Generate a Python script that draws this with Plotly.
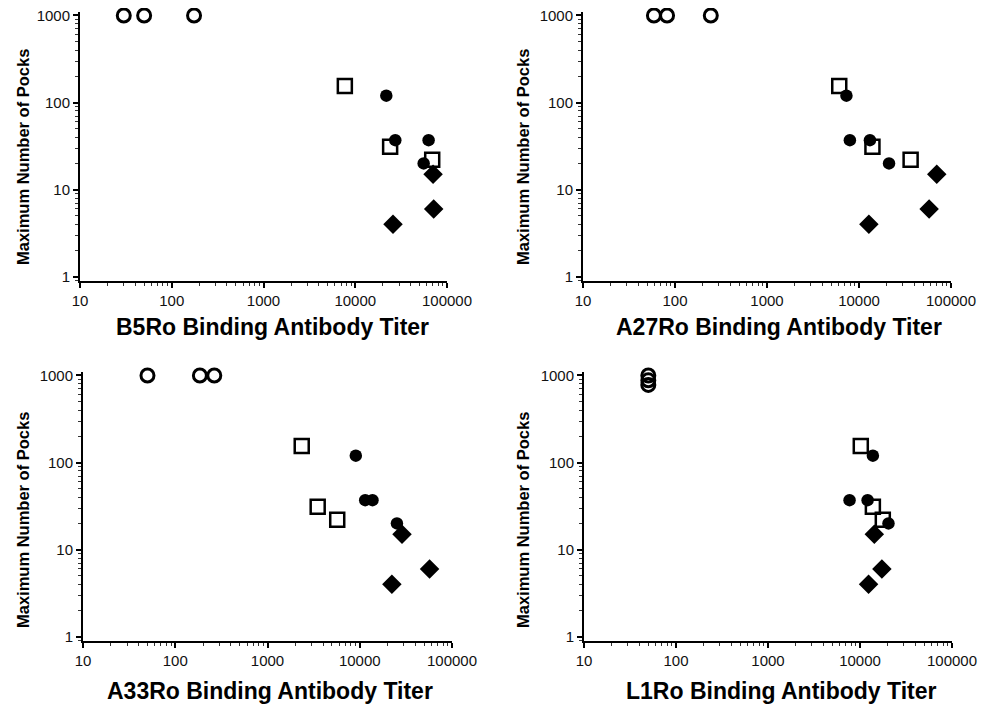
import plotly.graph_objects as go

# ---- data ----
antigens = ["B5Ro", "A27Ro", "A33Ro", "L1Ro"]

open_circle_y = [1000, 1000, 1000]
square_y = [155, 31, 22]
filled_y = [120, 37, 37, 20]
diamond_y = [15, 6, 4]

b5_open_x = [30, 50, 175]
b5_square_x = [7700, 24000, 69000]
b5_filled_x = [21800, 27300, 63000, 55700]
b5_diamond_x = [70500, 71600, 25800]

a27_open_x = [59, 82, 245]
a27_square_x = [6100, 14000, 36400]
a27_filled_x = [7300, 7960, 13150, 21200]
a27_diamond_x = [70000, 57800, 12800]

a33_open_x = [50, 185, 265]
a33_square_x = [2350, 3500, 5700]
a33_filled_x = [9060, 11460, 13740, 25300]
a33_diamond_x = [28700, 57100, 22300]

l1_open_x = [50, 50, 50]
l1_open_y = [1000, 880, 780]
l1_square_x = [10200, 13800, 17700]
l1_filled_x = [13800, 7700, 12100, 20400]
l1_diamond_x = [14300, 17300, 12400]

panels = [
    (b5_open_x, open_circle_y, b5_square_x, b5_filled_x, b5_diamond_x),
    (a27_open_x, open_circle_y, a27_square_x, a27_filled_x, a27_diamond_x),
    (a33_open_x, open_circle_y, a33_square_x, a33_filled_x, a33_diamond_x),
    (l1_open_x, l1_open_y, l1_square_x, l1_filled_x, l1_diamond_x),
]

# page body has an 8px default margin; the figure is sized to fit the window
OFF = 8
W, H = 987 - OFF, 704 - OFF
# pixel geometry (window coordinates) for each panel: (x_left, x_right, y_top, y_bottom)
geom = [
    (80, 447, 12, 281),
    (583, 951, 12, 281),
    (83, 452, 372, 641),
    (584, 952, 372, 641),
]
xtitle_pos = [(272, 327), (779, 327), (270, 691), (781, 691)]
ytitle_pos = [(23, 157), (523, 157), (23, 520), (523, 520)]


def px(v):
    return (v - OFF) / W


def py(v):
    return 1 - (v - OFF) / H


fig = go.Figure()
font_family = "Liberation Sans, Arial, sans-serif"

for i, (ox, oy, sx, fx, dx) in enumerate(panels):
    n = "" if i == 0 else str(i + 1)
    xa, ya = "x" + n, "y" + n
    fig.add_trace(go.Scatter(x=ox, y=oy, mode="markers", xaxis=xa, yaxis=ya, cliponaxis=False,
                             marker=dict(symbol="circle-open", size=13, color="black",
                                         line=dict(width=3, color="black"))))
    fig.add_trace(go.Scatter(x=sx, y=square_y, mode="markers", xaxis=xa, yaxis=ya, cliponaxis=False,
                             marker=dict(symbol="square-open", size=14, color="black",
                                         line=dict(width=2.5, color="black"))))
    fig.add_trace(go.Scatter(x=fx, y=filled_y, mode="markers", xaxis=xa, yaxis=ya, cliponaxis=False,
                             marker=dict(symbol="circle", size=12.5, color="black")))
    fig.add_trace(go.Scatter(x=dx, y=diamond_y, mode="markers", xaxis=xa, yaxis=ya, cliponaxis=False,
                             marker=dict(symbol="diamond", size=15, color="black")))

    xl, xr, yt, yb = geom[i]
    common = dict(showline=True, linecolor="black", linewidth=2, mirror=False,
                  showgrid=False, zeroline=False, ticks="outside", ticklen=5,
                  tickwidth=1.5, tickcolor="black", ticklabeloverflow="allow",
                  tickfont=dict(family=font_family, size=15, color="#111"),
                  minor=dict(ticks="outside", ticklen=3, tickwidth=1, tickcolor="#333",
                             dtick="D1", showgrid=False))
    fig.layout["xaxis" + n] = dict(type="log", range=[1, 5], dtick=1, tickformat="d",
                                   domain=[px(xl), px(xr)], anchor=ya, **common)
    fig.layout["yaxis" + n] = dict(type="log", range=[-0.05, 3.04], dtick=1, tickformat="d",
                                   domain=[py(yb), py(yt)], anchor=xa, **common)

    tx, ty = xtitle_pos[i]
    fig.add_annotation(x=px(tx), y=py(ty), xref="paper", yref="paper",
                       text="<b>%s Binding Antibody Titer</b>" % antigens[i],
                       showarrow=False, xanchor="center", yanchor="middle",
                       font=dict(family=font_family, size=23, color="black"))
    yx, yy = ytitle_pos[i]
    fig.add_annotation(x=px(yx), y=py(yy), xref="paper", yref="paper",
                       text="<b>Maximum Number of Pocks</b>", textangle=-90,
                       showarrow=False, xanchor="center", yanchor="middle",
                       font=dict(family=font_family, size=16.5, color="black"))

fig.update_layout(width=W, height=H,
                  margin=dict(l=0, r=0, t=0, b=0, autoexpand=False),
                  paper_bgcolor="white", plot_bgcolor="white", showlegend=False)

fig.write_html("out.html")
